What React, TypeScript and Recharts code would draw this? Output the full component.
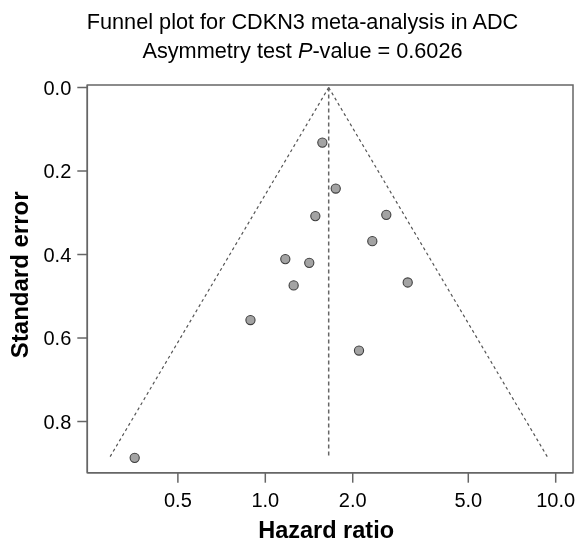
import React from "react";
import { ScatterChart, Scatter, XAxis, YAxis, ReferenceLine, ReferenceArea, Label } from "recharts";

const hazardRatios = [1.572, 1.748, 1.487, 2.61, 2.336, 1.172, 1.417, 1.252, 3.093, 0.889, 2.102, 0.355];
const standardErrors = [0.132, 0.242, 0.308, 0.305, 0.368, 0.411, 0.42, 0.474, 0.467, 0.557, 0.63, 0.887];
const xTicks = [0.5, 1, 2, 5, 10];
const yTicks = [0, 0.2, 0.4, 0.6, 0.8];
const pooledHR = 1.653;
const maxSE = 0.887;
const xDomain = [0.2438, 11.47];
const yDomain = [-0.006, 0.9226];

const points = hazardRatios.map((hr, i) => ({ hr, se: standardErrors[i] }));
const lowerHR = pooledHR * Math.exp(-1.96 * maxSE);
const upperHR = pooledHR * Math.exp(1.96 * maxSE);

const FONT = "'Liberation Sans', Arial, Helvetica, sans-serif";
const GRAY = "#666666";

const Dot = (props: any) => (
  <circle cx={props.cx} cy={props.cy} r={4.6} fill="#a3a3a3" stroke="#3f3f3f" strokeWidth={1.1} />
);

export default function App() {
  return (
    <div style={{ position: "fixed", left: 0, top: 8, width: 579, height: 534, fontFamily: FONT }}>
      <ScatterChart width={579} height={534} margin={{ top: 77, right: 6, bottom: 0, left: 0 }}>
        <XAxis
          dataKey="hr"
          type="number"
          scale="log"
          domain={xDomain}
          allowDataOverflow
          ticks={xTicks}
          tickFormatter={(v: number) => v.toFixed(1)}
          tickSize={10}
          tickMargin={10}
          height={69.3}
          axisLine={{ stroke: GRAY, strokeWidth: 1.5 }}
          tickLine={{ stroke: GRAY, strokeWidth: 1.5 }}
          tick={{ fill: "#000", fontSize: 20, fontFamily: FONT }}
        >
          <Label
            value="Hazard ratio"
            position="insideBottom"
            offset={4}
            dx={-4}
            style={{ fontSize: 23.5, fontWeight: "bold", fill: "#000", fontFamily: FONT }}
          />
        </XAxis>
        <YAxis
          dataKey="se"
          type="number"
          reversed
          domain={yDomain}
          allowDataOverflow
          ticks={yTicks}
          tickFormatter={(v: number) => v.toFixed(1)}
          tickSize={10}
          tickMargin={6}
          width={87.3}
          axisLine={{ stroke: GRAY, strokeWidth: 1.5 }}
          tickLine={{ stroke: GRAY, strokeWidth: 1.5 }}
          tick={{ fill: "#000", fontSize: 20, fontFamily: FONT }}
        >
          <Label
            value="Standard error"
            angle={-90}
            position="insideLeft"
            offset={19.5}
            dy={-4}
            style={{ fontSize: 24, fontWeight: "bold", fill: "#000", textAnchor: "middle", fontFamily: FONT }}
          />
        </YAxis>
        <ReferenceArea
          x1={xDomain[0]}
          x2={xDomain[1]}
          y1={yDomain[0]}
          y2={yDomain[1]}
          fill="none"
          stroke={GRAY}
          strokeWidth={1.5}
          ifOverflow="visible"
        />
        <ReferenceLine
          segment={[{ x: pooledHR, y: 0 }, { x: lowerHR, y: maxSE }]}
          stroke="#555"
          strokeWidth={1.2}
          strokeDasharray="3 3"
          ifOverflow="visible"
        />
        <ReferenceLine
          segment={[{ x: pooledHR, y: 0 }, { x: upperHR, y: maxSE }]}
          stroke="#555"
          strokeWidth={1.2}
          strokeDasharray="3 3"
          ifOverflow="visible"
        />
        <ReferenceLine
          segment={[{ x: pooledHR, y: 0 }, { x: pooledHR, y: maxSE }]}
          stroke="#666"
          strokeWidth={1.5}
          strokeDasharray="4 3"
          ifOverflow="visible"
        />
        <Scatter data={points} shape={<Dot />} isAnimationActive={false} />
      </ScatterChart>
      <svg
        width={579}
        height={80}
        style={{ position: "absolute", left: 0, top: 0, pointerEvents: "none" }}
      >
        <text x={302.5} y={21.3} textAnchor="middle" fontSize={21.7} fontFamily={FONT} fill="#000">
          Funnel plot for CDKN3 meta-analysis in ADC
        </text>
        <text x={302.5} y={50.3} textAnchor="middle" fontSize={21.7} fontFamily={FONT} fill="#000">
          Asymmetry test <tspan fontStyle="italic">P</tspan>-value = 0.6026
        </text>
      </svg>
    </div>
  );
}
